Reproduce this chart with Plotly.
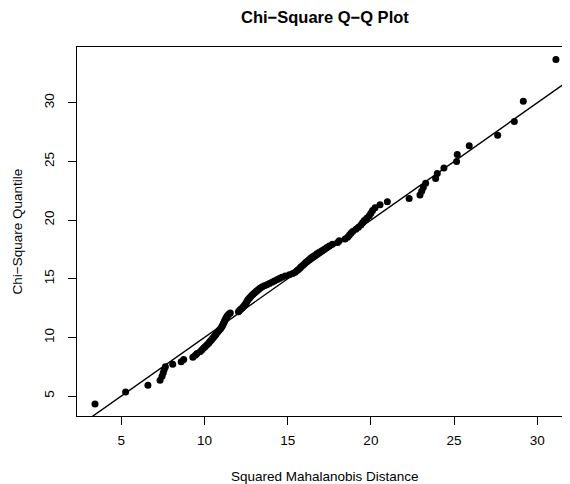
import plotly.graph_objects as go

# Sorted squared Mahalanobis distances (x)
distance = [3.42, 5.26, 6.60, 7.33, 7.45, 7.52, 7.58, 7.65, 8.09, 8.60,
            8.75, 9.30, 9.45, 9.55, 9.75, 9.85, 9.95, 10.05, 10.15, 10.25,
            10.32, 10.40, 10.48, 10.55, 10.62, 10.68, 10.74, 10.80, 10.88, 10.95,
            11.00, 11.05, 11.10, 11.13, 11.17, 11.20, 11.23, 11.27, 11.30, 11.35,
            11.40, 11.47, 11.55, 12.04, 12.10, 12.18, 12.25, 12.32, 12.38, 12.43,
            12.48, 12.52, 12.56, 12.60, 12.66, 12.72, 12.78, 12.85, 12.92, 13.00,
            13.08, 13.16, 13.25, 13.33, 13.45,
            13.60, 13.75, 13.90, 14.05, 14.20, 14.35, 14.50, 14.65, 14.85, 15.10,
            15.30, 15.45, 15.55, 15.65, 15.75, 15.80, 15.90, 16.00, 16.08, 16.18,
            16.28, 16.38, 16.50, 16.62, 16.75, 16.90, 17.05, 17.20, 17.35, 17.50,
            17.68, 18.00, 18.10, 18.45, 18.60, 18.70, 18.80, 18.90, 19.10, 19.25,
            19.40, 19.50, 19.60, 19.75, 19.90, 20.00, 20.10, 20.25, 20.55, 20.99,
            22.30, 22.95, 23.05, 23.15, 23.29, 23.89, 23.99, 24.39, 25.15, 25.19,
            25.91, 27.62, 28.62, 29.16, 31.12]

# Chi-square quantiles (y)
quantile = [4.328, 5.338, 5.913, 6.341, 6.690, 6.992, 7.255, 7.497, 7.717, 7.922,
            8.114, 8.297, 8.468, 8.633, 8.794, 8.944, 9.092, 9.234, 9.374, 9.510,
            9.640, 9.767, 9.896, 10.016, 10.138, 10.257, 10.376, 10.492, 10.605, 10.718,
            10.828, 10.939, 11.050, 11.158, 11.261, 11.370, 11.471, 11.577, 11.678, 11.780,
            11.883, 11.987, 12.086, 12.186, 12.286, 12.392, 12.484, 12.586, 12.689, 12.787,
            12.886, 12.985, 13.085, 13.190, 13.286, 13.387, 13.484, 13.586, 13.684, 13.787,
            13.886, 13.985, 14.090, 14.190, 14.290,
            14.396, 14.498, 14.600, 14.708, 14.811, 14.914, 15.023, 15.128, 15.238, 15.344,
            15.455, 15.562, 15.680, 15.793, 15.907, 16.021, 16.136, 16.257, 16.378, 16.489,
            16.617, 16.741, 16.865, 16.990, 17.121, 17.253, 17.386, 17.519, 17.659, 17.794,
            17.941, 18.084, 18.233, 18.389, 18.547, 18.705, 18.870, 19.037, 19.211, 19.392,
            19.575, 19.765, 19.957, 20.163, 20.370, 20.586, 20.817, 21.056, 21.304, 21.568,
            21.842, 22.139, 22.452, 22.784, 23.148, 23.537, 23.969, 24.444, 24.986, 25.599,
            26.334, 27.228, 28.402, 30.129, 33.686]

# Reference line y = a + b*x
line_intercept = 0.0
line_slope = 1.0

x_ticks = [5, 10, 15, 20, 25, 30]
y_ticks = [5, 10, 15, 20, 25, 30]

title_text = "Chi\u2212Square Q\u2212Q Plot"
x_title = "Squared Mahalanobis Distance"
y_title = "Chi\u2212Square Quantile"

x_range = [2.338, 31.966]
y_range = [3.299, 34.757]
x_center = 17.27   # horizontal centre of R's (partly cropped) plot region

FONT = "Liberation Sans, Arial, Helvetica, sans-serif"

fig = go.Figure()

fig.add_trace(go.Scatter(
    x=x_range,
    y=[line_intercept + line_slope * v for v in x_range],
    mode="lines",
    line=dict(color="black", width=1.4),
    hoverinfo="skip",
    showlegend=False,
))

fig.add_trace(go.Scatter(
    x=distance, y=quantile,
    mode="markers",
    marker=dict(color="black", size=7, line=dict(width=0)),
    showlegend=False,
    cliponaxis=False,
))

# The page body has an 8px margin, so the figure is 8px smaller than the window
fig.update_layout(
    width=562, height=476,
    margin=dict(l=69, r=0, t=39, b=68),
    paper_bgcolor="white", plot_bgcolor="white",
    font=dict(family=FONT, size=13.5, color="black"),
    showlegend=False,
)

fig.update_xaxes(
    range=x_range, showgrid=False, zeroline=False,
    showline=True, mirror=True, linecolor="black", linewidth=1,
    ticks="outside", ticklen=8, tickwidth=1, tickcolor="black",
    tickvals=x_ticks, ticktext=[str(t) for t in x_ticks],
    tickfont=dict(family=FONT, size=13.5, color="black"),
    ticklabelstandoff=4,
)
fig.update_yaxes(
    range=y_range, showgrid=False, zeroline=False,
    showline=True, mirror=False, linecolor="black", linewidth=1,
    ticks="outside", ticklen=8, tickwidth=1, tickcolor="black",
    tickvals=y_ticks, ticktext=[str(t) for t in y_ticks],
    tickangle=-90,
    tickfont=dict(family=FONT, size=13.5, color="black"),
    ticklabelstandoff=9,
)

# Titles (R-style placement)
fig.add_annotation(text="<b>" + title_text + "</b>", xref="x", yref="paper",
                   x=x_center, y=1, yshift=30, xanchor="center", yanchor="middle",
                   showarrow=False, font=dict(family=FONT, size=16.5, color="black"))
fig.add_annotation(text=x_title, xref="x", yref="paper",
                   x=x_center, y=0, yshift=-60, xanchor="center", yanchor="middle",
                   showarrow=False, font=dict(family=FONT, size=13.5, color="black"))
fig.add_annotation(text=y_title, xref="paper", yref="paper",
                   x=0, y=0.5, xshift=-60, xanchor="center", yanchor="middle",
                   textangle=-90, showarrow=False,
                   font=dict(family=FONT, size=13.5, color="black"))

fig.write_html("out.html")
